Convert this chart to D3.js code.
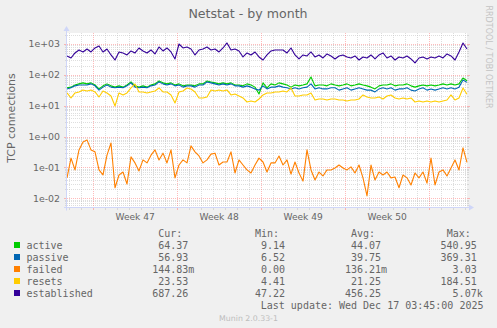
<!DOCTYPE html>
<html><head><meta charset="utf-8">
<script src="https://cdn.jsdelivr.net/npm/d3@7"></script>
<style>body{margin:0;background:#f0f0f0;}svg{display:block;}</style>
</head><body>
<svg id="c" width="497" height="328"></svg>
<script>
// ---------------- data ----------------
const seriesNames  = ["active","passive","failed","resets","established"];
const seriesColors = ["#00cc00","#0066b3","#ff8000","#ffcc00","#330099"];

const active = [38,40,47,51,55,51,55,47,35,44,51,44,40,44,40,47,59,44,40,44,40,47,51,63,55,51,55,47,51,44,
  47,47,44,51,51,63,59,55,51,55,51,55,47,47,44,51,47,40,24,55,38,51,47,55,51,47,40,47,44,47,
  51,85,44,47,47,44,51,47,44,47,51,44,47,51,47,44,40,35,44,47,47,51,44,47,47,51,44,40,44,47,
  44,47,44,47,51,47,51,47,51,79,64.37];
const passive = [35,38,44,47,47,47,51,44,32,40,47,40,38,40,38,44,55,40,38,40,38,44,47,59,51,47,51,44,47,40,
  44,44,40,47,47,59,55,51,47,51,47,51,44,44,40,44,40,35,32,44,35,40,40,44,40,38,35,38,35,38,
  40,51,35,38,35,35,38,38,32,35,38,32,35,38,35,32,32,28,35,38,35,38,32,35,35,38,32,30,35,38,
  32,35,32,35,38,35,38,35,40,68,56.93];
const failed = [0.046,0.20,0.083,0.37,0.67,0.78,0.37,0.32,0.083,0.057,0.25,0.62,0.022,0.057,0.071,0.029,0.22,0.14,0.077,0.175,
  0.14,0.25,0.37,0.175,0.29,0.14,0.37,0.046,0.12,0.175,0.14,0.50,0.32,0.235,0.14,0.175,0.27,0.29,0.12,0.15,
  0.15,0.32,0.066,0.175,0.12,0.083,0.066,0.12,0.20,0.15,0.071,0.14,0.14,0.235,0.12,0.175,0.061,0.15,0.066,0.036,
  0.37,0.083,0.039,0.071,0.053,0.083,0.083,0.096,0.12,0.096,0.083,0.104,0.066,0.12,0.046,0.012,0.12,0.039,0.071,0.057,
  0.071,0.046,0.049,0.022,0.057,0.046,0.027,0.066,0.046,0.071,0.031,0.20,0.027,0.071,0.083,0.053,0.096,0.175,0.083,0.43,0.14483];
const resets = [25.9,17.8,25.9,27.9,32.4,30.0,32.4,27.9,19.2,30.0,25.9,20.7,9.8,25.9,22.3,25.9,37.6,50.6,27.9,27.9,
  25.9,27.9,30.0,37.6,27.9,27.9,22.3,12.3,27.9,30.0,37.6,34.9,27.9,17.8,17.8,19.2,32.4,30.0,32.4,30.0,
  32.4,22.3,24.0,20.7,17.8,13.2,14.3,13.2,16.5,22.3,25.9,25.9,27.9,27.9,30.0,27.9,37.6,20.7,20.7,22.3,
  22.3,25.9,15.3,16.5,16.5,15.3,16.5,16.5,15.3,15.3,14.3,15.3,15.3,16.5,22.3,19.2,17.8,17.8,19.2,16.5,
  20.7,22.3,17.8,16.5,17.8,16.5,17.8,13.2,14.3,13.2,14.3,13.2,14.3,13.2,14.3,15.3,22.3,15.3,17.8,37.6,23.53];
const established = [409,352,512,640,551,690,551,743,863,551,690,441,303,551,512,441,594,512,743,594,
  512,640,475,800,594,743,551,327,1000,743,800,690,441,640,690,800,640,690,551,743,
  1080,640,690,594,380,512,441,551,380,303,441,594,640,640,640,512,743,441,327,441,
  409,551,380,441,352,475,409,327,409,441,380,352,409,303,380,352,441,327,441,512,
  352,409,303,380,352,409,327,243,352,380,327,380,352,409,352,475,409,303,551,1080,687.26];
const seriesData = [active, passive, failed, resets, established];

const curText = ["64.37","56.93","144.83m","23.53","687.26"];
const minText = ["9.14","6.52","0.00","4.41","47.22"];
const avgText = ["44.07","39.75","136.21m","21.25","456.25"];
const maxText = ["540.95","369.31","3.03","184.51","5.07k"];

const yTickValues = [1e-2,1e-1,1,10,100,1000];
const yTickLabels = ["1e-02","1e-01","1e+00","1e+01","1e+02","1e+03"];
const weekLabels  = ["Week 47","Week 48","Week 49","Week 50"];

const endTime = Date.UTC(2025,11,17,3,45);
const stepHours = 8;

// ---------------- layout ----------------
const W=497,H=328, X0=67, X1=467, YT=33, YB=207.5;
const FONT="#666666", AXIS="#cfd6f8";
const GRIDC="rgba(190,190,190,0.5)", MGRIDC="rgba(255,120,120,0.5)";
const svg=d3.select("#c");
svg.append("rect").attr("width",W).attr("height",H).attr("fill","#f0f0f0");
svg.append("rect").attr("x",X0).attr("y",YT).attr("width",X1-X0).attr("height",YB-YT).attr("fill","#ffffff");

const startTime = endTime - (active.length-1)*stepHours*3600e3;
const times = active.map((_,i)=>new Date(startTime + i*stepHours*3600e3));
const x = d3.scaleUtc().domain([new Date(startTime), new Date(endTime)]).range([X0, X1]);
const y = d3.scaleLog().domain([0.00503, 2271]).range([YB, YT]);

const g = svg.append("g");
// minor horizontal grid
const minorH=[];
for(let k=-3;k<=3;k++) for(let m=2;m<=9;m++){const v=m*Math.pow(10,k); if(v>y.domain()[0]&&v<y.domain()[1]) minorH.push(v);}
const hy = v => Math.round(y(v))+0.5;
g.selectAll(".mh").data(minorH).join("line").attr("x1",X0).attr("x2",X1)
  .attr("y1",hy).attr("y2",hy).attr("stroke",GRIDC).attr("stroke-dasharray","1,1");
g.selectAll(".mht").data(minorH).join("path")
  .attr("d",v=>`M${X0-2},${hy(v)}H${X0}M${X1},${hy(v)}H${X1+2}`).attr("stroke",GRIDC);
// vertical grid
const days = d3.utcDay.range(new Date(startTime), new Date(endTime));
const vx = d => Math.round(x(d))+0.5;
g.selectAll(".vg").data(days).join("line").attr("x1",vx).attr("x2",vx).attr("y1",YT).attr("y2",YB)
  .attr("stroke",d=>d.getUTCDay()===0?MGRIDC:GRIDC)
  .attr("stroke-dasharray","1,1");
g.selectAll(".vgt").data(days).join("line").attr("x1",vx).attr("x2",vx).attr("y1",YB).attr("y2",YB+2.5)
  .attr("stroke",d=>d.getUTCDay()===0?MGRIDC:GRIDC);
// major horizontal grid
g.selectAll(".Mh").data(yTickValues).join("line").attr("x1",X0).attr("x2",X1)
  .attr("y1",hy).attr("y2",hy).attr("stroke",MGRIDC).attr("stroke-dasharray","1,1");
g.selectAll(".Mht").data(yTickValues).join("path")
  .attr("d",v=>`M${X0-3},${hy(v)}H${X0}M${X1},${hy(v)}H${X1+3}`).attr("stroke",MGRIDC);

// series lines
const line = d3.line().defined(d=>d.v>0).x(d=>x(d.t)).y(d=>y(d.v));
seriesData.forEach((arr,si)=>{
  svg.append("path").datum(arr.map((v,i)=>({t:times[i],v})))
    .attr("d",line).attr("fill","none").attr("stroke",seriesColors[si]).attr("stroke-width",1.1)
    .attr("stroke-linejoin","round");
});

// axes
svg.append("line").attr("x1",X0-0.5).attr("x2",X0-0.5).attr("y1",YB+3).attr("y2",YT-3).attr("stroke",AXIS);
svg.append("path").attr("d",`M${X0-3.5},${YT-2}L${X0-0.5},${YT-7}L${X0+2.5},${YT-2}Z`).attr("fill",AXIS);
svg.append("line").attr("x1",X0-3).attr("x2",X1+3).attr("y1",YB).attr("y2",YB).attr("stroke",AXIS);
svg.append("path").attr("d",`M${X1+2},${YB-3}L${X1+7},${YB}L${X1+2},${YB+3}Z`).attr("fill",AXIS);

// y tick labels
svg.selectAll(".yl").data(yTickValues).join("text")
  .attr("x",60).attr("y",v=>y(v)+3.5).attr("text-anchor","end")
  .attr("font-family","DejaVu Sans").attr("font-size",9.4).attr("fill",FONT)
  .text((v,i)=>yTickLabels[i]);
// week labels
const sundays = days.filter(d=>d.getUTCDay()===0);
svg.selectAll(".wl").data(weekLabels).join("text")
  .attr("x",(t,i)=>x(new Date(sundays[i].getTime()+3.5*86400e3))).attr("y",220)
  .attr("text-anchor","middle").attr("font-family","DejaVu Sans").attr("font-size",9.1).attr("fill",FONT)
  .text(t=>t);

// title, y label, watermarks
svg.append("text").attr("x",248).attr("y",17.5).attr("text-anchor","middle")
  .attr("font-family","DejaVu Sans").attr("font-size",12.6).attr("fill",FONT).text("Netstat - by month");
svg.append("text").attr("transform","translate(15,118) rotate(-90)").attr("text-anchor","middle")
  .attr("font-family","DejaVu Sans").attr("font-size",10.9).attr("fill",FONT).text("TCP connections");
svg.append("text").attr("transform","translate(486,5.5) rotate(90)").attr("text-anchor","start")
  .attr("font-family","DejaVu Sans").attr("font-size",8).attr("fill","#c4c4c4").text("RRDTOOL / TOBI OETIKER");
svg.append("text").attr("x",248.5).attr("y",320.5).attr("text-anchor","middle")
  .attr("font-family","DejaVu Sans").attr("font-size",7.8).attr("fill","#bdbdbd").text("Munin 2.0.33-1");

// legend
const MONO="DejaVu Sans Mono", LFS=10;
const colRight=[188.3,285,381,476.7];
const headers=["Cur:","Min:","Avg:","Max:"];
const lg=svg.append("g").attr("font-family",MONO).attr("font-size",LFS).attr("fill",FONT);
headers.forEach((h,j)=>lg.append("text").attr("x",colRight[j]-30).attr("y",237).text(h));
const cols=[curText,minText,avgText,maxText];
seriesNames.forEach((n,i)=>{
  const by=249+12*i;
  lg.append("rect").attr("x",14).attr("y",by-7).attr("width",6).attr("height",6).attr("fill",seriesColors[i]);
  lg.append("text").attr("x",26.5).attr("y",by).text(n);
  cols.forEach((c,j)=>{
    const s=c[i], m=s.match(/^([\d.]+)([a-zA-Z]?)$/);
    lg.append("text").attr("x",colRight[j]).attr("y",by).attr("text-anchor","end").text(m[1]);
    if(m[2]) lg.append("text").attr("x",colRight[j]).attr("y",by).text(m[2]);
  });
});
lg.append("text").attr("x",483.5).attr("y",309).attr("text-anchor","end")
  .attr("xml:space","preserve").style("white-space","pre").text("Last update: Wed Dec 17 03:45:00 2025");
</script>
</body></html>
